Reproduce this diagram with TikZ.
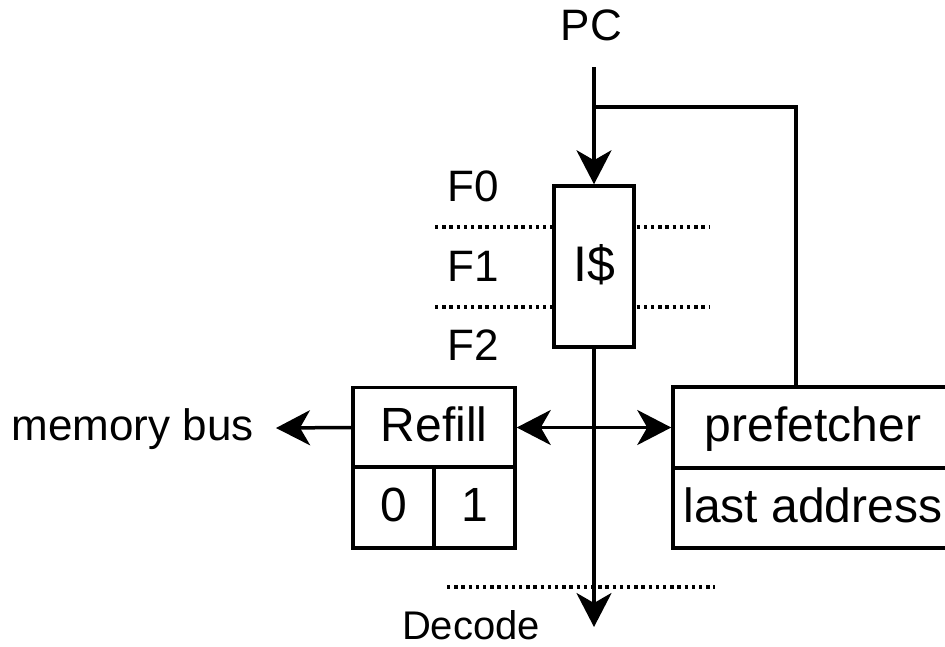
\documentclass[tikz,border=0pt]{standalone}
\usepackage{fontspec}
\setmainfont{Liberation Sans}
\usetikzlibrary{arrows.meta}
\tikzset{
  wire/.style={line width=3.5pt, line join=miter},
  tip/.style={-{Stealth[length=34pt, width=35pt, inset=10pt]}},
  stage/.style={line width=3.5pt, dash pattern=on 3.4pt off 3.8pt},
  box/.style={draw, line width=3.5pt, fill=white, inner sep=0pt, text height=28pt, text depth=0pt, font=\fontsize{48}{54}\selectfont},
  lbl/.style={inner sep=0pt, anchor=base, font=\fontsize{44}{50}\selectfont},
}
\begin{document}
\begin{tikzpicture}[x=1pt, y=-1pt]
\useasboundingbox (0,0) rectangle (945,646);
% stage separators
\draw[stage] (435,227) -- (710,227);
\draw[stage] (435,307) -- (710,307);
\draw[stage] (447,587) -- (715,587);
% nodes
\node[box, minimum width=80pt, minimum height=161pt, text height=30pt, font=\fontsize{50}{56}\selectfont] (icache) at (594,266.5) {I\$};
\node[box, minimum width=162pt, minimum height=80pt] (refill) at (434,427.5) {Refill};
\node[box, minimum width=81pt, minimum height=81pt] (r0) at (393.5,507.5) {0};
\node[box, minimum width=81pt, minimum height=81pt] (r1) at (474.5,507.5) {1};
\node[box, minimum width=280pt, minimum height=81pt] (pref) at (813,427.5) {prefetcher};
\node[box, minimum width=280pt, minimum height=80pt] (last) at (813,508) {last address};
\node[lbl] (pc) at (591.5,40) {PC};
\node[lbl] (f0) at (473,201) {F0};
\node[lbl] (f1) at (473,281.7) {F1};
\node[lbl] (f2) at (473,360) {F2};
\node[lbl, font=\fontsize{40}{46}\selectfont] (decode) at (471,639) {Decode};
\node[lbl, font=\fontsize{44}{50}\selectfont] (membus) at (132.5,440.7) {memory bus};
% coordinates
\coordinate (pcin) at (594,67);
\coordinate (fork) at (594,107);
\coordinate (fbtop) at (796,107);
\coordinate (fbend) at (796,387);
\coordinate (busend) at (276,428);
\coordinate (decend) at (594,627);
% connectors
\draw[wire, tip] (pcin) -- (icache.north);
\draw[wire] (fork) -- (fbtop) -- (fbend);
\draw[wire, tip] (icache.south) -- (decend);
\draw[wire, tip] (refill.west) -- (busend);
\draw[wire, {Stealth[length=34pt, width=35pt, inset=10pt]}-{Stealth[length=34pt, width=35pt, inset=10pt]}] (refill.east) -- (pref.west);
\end{tikzpicture}
\end{document}
